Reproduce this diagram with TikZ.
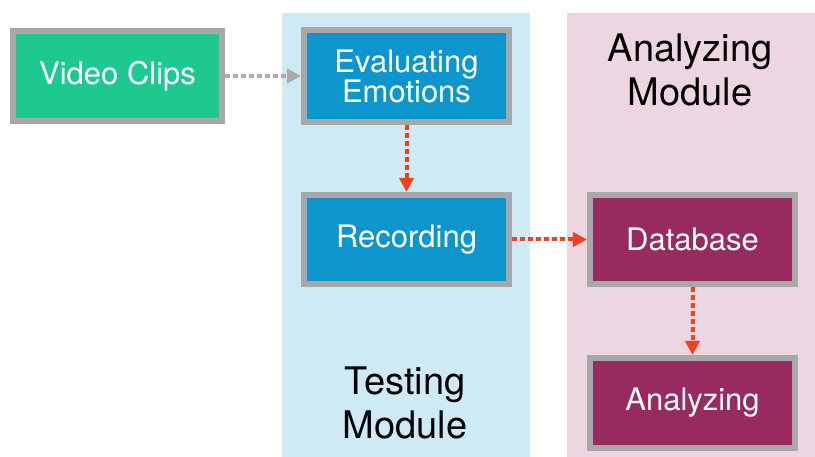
\documentclass[tikz,border=0pt]{standalone}
\usepackage{fontspec}
\setmainfont{TeX Gyre Heros}
\usetikzlibrary{arrows.meta}
\definecolor{boxgreen}{RGB}{30,200,145}
\definecolor{boxblue}{RGB}{12,150,205}
\definecolor{boxmaroon}{RGB}{152,42,96}
\definecolor{bordergray}{RGB}{168,168,168}
\definecolor{panelblue}{RGB}{205,234,245}
\definecolor{panelpink}{RGB}{237,214,225}
\definecolor{arrowred}{RGB}{240,64,30}
\definecolor{arrowgray}{RGB}{170,170,170}
\tikzset{
  stepbox/.style={draw=bordergray, line width=6pt, minimum width=205pt, minimum height=90pt,
    text=white, align=center, inner sep=0pt, font=\fontsize{31}{30}\selectfont},
  panel/.style={inner sep=0pt, minimum width=248pt, minimum height=444pt},
  title/.style={align=center, font=\fontsize{38}{44}\selectfont, text=black},
  redflow/.style={draw=arrowred, line width=4pt, dash pattern=on 5pt off 3pt,
    -{Triangle[length=14pt,width=14pt,fill=arrowred]}},
  grayflow/.style={draw=arrowgray, line width=4pt, dash pattern=on 5pt off 3pt,
    -{Triangle[length=14pt,width=14pt,fill=arrowgray]}}
}
\begin{document}
\begin{tikzpicture}[x=1pt,y=-1pt]
\useasboundingbox (0,0) rectangle (815,457);
\fill[white] (0,0) rectangle (815,457);
\node[panel, fill=panelblue] (testpanel) at (406,235) {};
\node[panel, fill=panelpink] (anapanel) at (691,235) {};
\node[stepbox, fill=boxgreen, minimum width=209pt] (video) at (117.5,76) {Video Clips};
\node[stepbox, fill=boxblue, minimum height=92pt] (eval) at (406.5,76) {Evaluating\\Emotions};
\node[stepbox, fill=boxblue, minimum height=89pt] (rec) at (406.5,239.5) {Recording};
\node[stepbox, fill=boxmaroon, minimum height=89pt] (db) at (692.5,239.5) {Database};
\node[stepbox, fill=boxmaroon, minimum height=90pt] (ana) at (692.5,403) {Analyzing};
\node[title] (testtitle) at (405,403) {Testing\\Module};
\node[title] (anatitle) at (690,70) {Analyzing\\Module};
\draw[grayflow] (video.east) -- (eval.west |- video.east);
\draw[redflow] (eval.south) -- (rec.north);
\draw[redflow] (rec.east) -- (db.west);
\draw[redflow] (db.south) -- (ana.north);
\end{tikzpicture}
\end{document}
